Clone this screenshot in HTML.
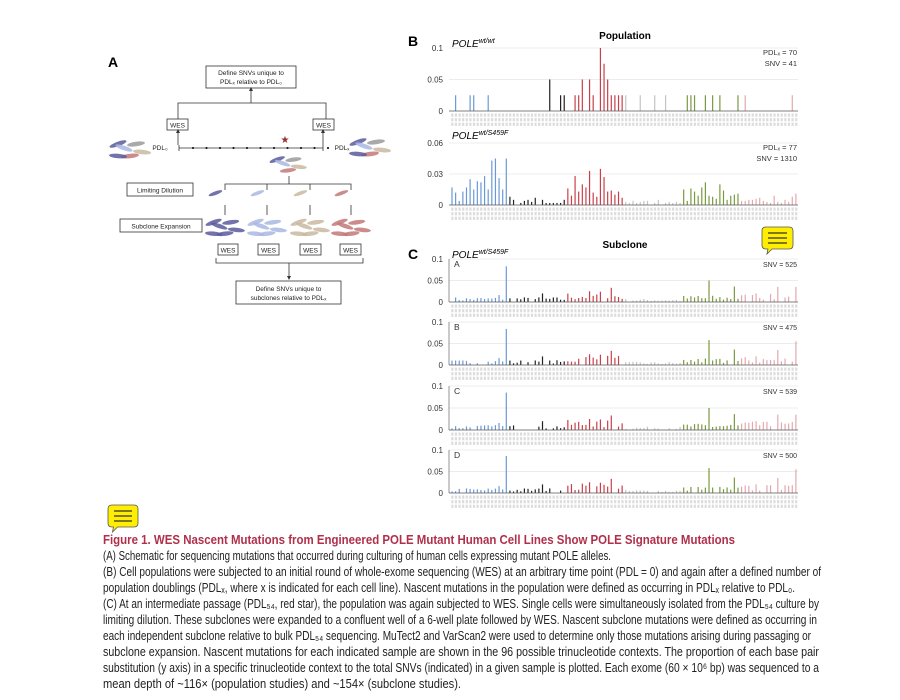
<!DOCTYPE html>
<html><head><meta charset="utf-8"><style>
html,body{margin:0;padding:0;background:#fff;}
svg{display:block;font-family:"Liberation Sans",sans-serif;}
</style></head><body>
<svg id="s" width="900" height="700" viewBox="0 0 900 700" xmlns="http://www.w3.org/2000/svg">
<rect width="900" height="700" fill="#fff"/>
<text x="108" y="67" font-size="14" font-weight="bold">A</text>
<g fill="none" stroke="#333" stroke-width="0.8">
<rect x="206" y="66" width="90" height="22"/>
<path d="M251 103 V90 M178 119 V103 H326 V119"/>
<rect x="167" y="119" width="21" height="11"/>
<rect x="313" y="119" width="21" height="11"/>
<path d="M178 145 V132 M323 145 V132"/>
<path d="M179 148 H323"/>
<path d="M289 176 V184 M225 190 V184 H351 V190 M267 184 V190 M310 184 V190"/>
<rect x="127" y="183" width="66" height="13"/>
<rect x="120" y="219" width="82" height="13"/>
<path d="M225 205 V215 M267 205 V215 M310 205 V215 M351 205 V215"/>
<rect x="218" y="244" width="20" height="11"/>
<rect x="258" y="244" width="21" height="11"/>
<rect x="300" y="244" width="21" height="11"/>
<rect x="340" y="244" width="21" height="11"/>
<path d="M216 258 V263 H363 V258 M289 263 V277"/>
<rect x="236" y="281" width="105" height="23"/>
</g>
<g fill="#333"><path d="M249 91 L251 87 L253 91Z M176 133 L178 129 L180 133Z M321 133 L323 129 L325 133Z M287 276 L289 280 L291 276Z"/></g>
<g font-size="6.5" fill="#222" text-anchor="middle">
<text x="251" y="75">Define SNVs unique to</text>
<text x="251" y="84">PDLₓ relative to PDL₀</text>
<text x="177.5" y="127.5">WES</text><text x="323.5" y="127.5">WES</text>
<text x="160" y="150">PDL₀</text><text x="342" y="150">PDLₓ</text>
<text x="160" y="192.5">Limiting Dilution</text>
<text x="161" y="228.5">Subclone Expansion</text>
<text x="228" y="252.5">WES</text><text x="268.5" y="252.5">WES</text><text x="310.5" y="252.5">WES</text><text x="350.5" y="252.5">WES</text>
<text x="288.5" y="291">Define SNVs unique to</text>
<text x="288.5" y="300">subclones relative to PDLₓ</text>
</g>
<text x="285" y="143" font-size="10" fill="#9a3030" text-anchor="middle">★</text>
<g id="cells"></g>
<g id="tl"></g>
<text x="408" y="46" font-size="14" font-weight="bold">B</text>
<text x="625" y="39" font-size="10" font-weight="bold" text-anchor="middle">Population</text>
<text x="452" y="47" font-size="10" font-style="italic">POLE<tspan font-size="7" dy="-4">wt/wt</tspan></text>
<text x="452" y="139" font-size="10" font-style="italic">POLE<tspan font-size="7" dy="-4">wt/S459F</tspan></text>
<g font-size="7.5" fill="#333" text-anchor="end">
<text x="797" y="55">PDLₓ = 70</text><text x="797" y="66">SNV = 41</text>
<text x="797" y="150">PDLₓ = 77</text><text x="797" y="161">SNV = 1310</text>
</g>
<text x="408" y="259" font-size="14" font-weight="bold">C</text>
<text x="625" y="248" font-size="10" font-weight="bold" text-anchor="middle">Subclone</text>
<text x="452" y="258" font-size="10" font-style="italic">POLE<tspan font-size="7" dy="-4">wt/S459F</tspan></text>
<g id="charts"></g>
<g id="bub"></g>
<g font-size="12.5" fill="#222">
<text x="103" y="544" fill="#b0304a" font-weight="bold" textLength="632" lengthAdjust="spacingAndGlyphs">Figure 1.  WES Nascent Mutations from Engineered POLE Mutant Human Cell Lines Show POLE Signature Mutations</text>
<text x="103" y="560" textLength="508" lengthAdjust="spacingAndGlyphs">(A) Schematic for sequencing mutations that occurred during culturing of human cells expressing mutant POLE alleles.</text>
<text x="103" y="576" textLength="718" lengthAdjust="spacingAndGlyphs">(B) Cell populations were subjected to an initial round of whole-exome sequencing (WES) at an arbitrary time point (PDL = 0) and again after a defined number of</text>
<text x="103" y="592" textLength="692" lengthAdjust="spacingAndGlyphs">population doublings (PDLₓ, where x is indicated for each cell line). Nascent mutations in the population were defined as occurring in PDLₓ relative to PDL₀.</text>
<text x="103" y="608" textLength="716" lengthAdjust="spacingAndGlyphs">(C) At an intermediate passage (PDL₅₄, red star), the population was again subjected to WES. Single cells were simultaneously isolated from the PDL₅₄ culture by</text>
<text x="103" y="624" textLength="714" lengthAdjust="spacingAndGlyphs">limiting dilution. These subclones were expanded to a confluent well of a 6-well plate followed by WES. Nascent subclone mutations were defined as occurring in</text>
<text x="103" y="640" textLength="708" lengthAdjust="spacingAndGlyphs">each independent subclone relative to bulk PDL₅₄ sequencing. MuTect2 and VarScan2 were used to determine only those mutations arising during passaging or</text>
<text x="103" y="656" textLength="716" lengthAdjust="spacingAndGlyphs">subclone expansion. Nascent mutations for each indicated sample are shown in the 96 possible trinucleotide contexts. The proportion of each base pair</text>
<text x="103" y="672" textLength="716" lengthAdjust="spacingAndGlyphs">substitution (y axis) in a specific trinucleotide context to the total SNVs (indicated) in a given sample is plotted. Each exome (60 × 10⁶ bp) was sequenced to a</text>
<text x="103" y="688" textLength="358" lengthAdjust="spacingAndGlyphs">mean depth of ~116× (population studies) and ~154× (subclone studies).</text>
</g>
</svg>
<script>
var NS="http://www.w3.org/2000/svg";
function el(p,t,a){var e=document.createElementNS(NS,t);for(var k in a)e.setAttribute(k,a[k]);p.appendChild(e);return e;}
var tl=document.getElementById('tl');
for(var i=0;i<11;i++){el(tl,'circle',{cx:193+i*13.5,cy:148,r:1.1,fill:'#222'});}
el(tl,'path',{d:'M179 145 V151 M323 145 V151',stroke:'#333','stroke-width':0.8});
var cg=document.getElementById('cells');
var cols=['#5b5b9c','#c27878','#c9b9a0','#a9b9e2','#9a9a9a'];
function cluster(x,y,pal,n,sc){
 for(var i=0;i<n;i++){
  var cx=x+((i*37)%5-2)*6*sc, cy=y+((i*23)%4-1.5)*4*sc, r=((i*53)%40)-20;
  el(cg,'ellipse',{cx:cx,cy:cy,rx:9*sc,ry:2.3*sc,fill:pal[i%pal.length],opacity:0.85,transform:'rotate('+r+' '+cx+' '+cy+')'});
 }}
cluster(130,150,cols,6,1);cluster(370,148,cols,6,1);cluster(288,165,cols,5,0.9);
var sub=[['#5b5b9c'],['#a9b9e2'],['#c9b9a0'],['#c27878']];
var xs=[225,267,310,351];
for(var j=0;j<4;j++){cluster(xs[j],198,sub[j],1,0.8);cluster(xs[j],228,sub[j],6,0.95);}
var CC=['#6a9ad6','#222','#c8404a','#c4c4c4','#7a9a40','#e4a8b0'];
var ch=document.getElementById('charts');
var seed=7;function rnd(){seed=(seed*16807)%2147483647;return seed/2147483647;}
function chart(y0,yTop,vmax,ticks,vals,vaxis){
 var H=y0-yTop;
 ticks.forEach(function(t){var y=y0-t/vmax*H;
  if(t>0)el(ch,'line',{x1:449,x2:798,y1:y,y2:y,stroke:'#e6e6e6','stroke-width':0.7});
  var tx=el(ch,'text',{x:443,y:y+3,'font-size':8,'text-anchor':'end',fill:'#333'});tx.textContent=(t==0?'0':String(t));});
 if(vaxis)el(ch,'line',{x1:449,x2:449,y1:yTop,y2:y0,stroke:'#666','stroke-width':0.7});
 for(var i=0;i<96;i++){var v=vals[i];if(v>0){var x=452+i*3.62;
  el(ch,'rect',{x:x-0.6,y:y0-v/vmax*H,width:1.2,height:v/vmax*H,fill:CC[Math.floor(i/16)]});}}
 el(ch,'line',{x1:449,x2:798,y1:y0,y2:y0,stroke:'#555','stroke-width':0.8});
 for(var r=0;r<3;r++)for(var i=0;i<96;i++){
  el(ch,'rect',{x:451.2+i*3.62,y:y0+2.5+r*4.6,width:2.2,height:3.2,fill:'#dcdcdc'});}
}
var a=new Array(96).fill(0);
[1,5,6,10,30,31,34,35,39,44,45,46,47,48,52,56,59,65,66,67,70,72,74,79,81,94].forEach(function(i){a[i]=0.025;});
a[27]=0.05;a[36]=0.05;a[38]=0.05;a[41]=0.1;a[42]=0.075;a[43]=0.05;
chart(111,48,0.1,[0,0.05,0.1],a,false);
var b=[.017,.012,.004,.013,.017,.025,.015,.023,.022,.028,.015,.043,.045,.026,.015,.045,
 .008,.005,0,.002,.004,.005,.003,.007,0,.005,.002,.002,.002,.002,.002,.005,
 .016,.009,.028,.013,.020,.017,.033,.012,.008,.035,.027,.013,.014,.010,.013,.007,
 .003,.002,.004,.002,.003,.004,.004,0,.002,.005,0,.002,.003,.002,.003,.002,
 .015,.004,.016,.013,.009,.017,.022,.009,.008,.006,.020,.014,.005,.009,.010,.011,
 .004,.004,.005,.005,.006,.007,.004,.003,.002,.009,.003,.002,.005,.003,.008,.011];
chart(205,143,0.06,[0,0.03,0.06],b,false);
var sub0=[[302,259,'A','SNV = 525'],[365,322,'B','SNV = 475'],[430,386,'C','SNV = 539'],[493,450,'D','SNV = 500']];
sub0.forEach(function(p,k){
 var v=[];for(var i=0;i<96;i++){var g=Math.floor(i/16),r=rnd();
  var base=[.006,.006,.012,.004,.008,.01][g];v.push(r<0.15?0:base*(0.3+r*1.6));}
 v[15]=0.083+k*0.001;v[13]=0.016;v[25]=0.02;v[38]=0.025;v[44]=0.033;v[41]=0.024;
 v[71]=0.05+0.008*(k%2);v[78]=0.036;v[90]=0.035;v[95]=0.035+0.02*(k%2);v[68]=0.014;v[84]=0.02;
 chart(p[0],p[1],0.1,[0,0.05,0.1],v,true);
 var t=el(ch,'text',{x:454,y:p[1]+8,'font-size':8.5,fill:'#333'});t.textContent=p[2];
 t=el(ch,'text',{x:797,y:p[1]+8,'font-size':7,fill:'#333','text-anchor':'end'});t.textContent=p[3];
});
var bg=document.getElementById('bub');
function bubble(x,y,w,h){
 el(bg,'path',{d:'M'+(x+4)+' '+y+' h'+(w-8)+' q4 0 4 4 v'+(h-8)+' q0 4 -4 4 h-'+(w*0.55)+' l-5 5 l1 -5 h-'+(w*0.45-12)+' q-4 0 -4 -4 v-'+(h-8)+' q0 -4 4 -4z',fill:'#ffee00',stroke:'#555','stroke-width':0.8});
 for(var i=0;i<3;i++)el(bg,'line',{x1:x+6,x2:x+w-6,y1:y+6+i*(h-12)/2,y2:y+6+i*(h-12)/2,stroke:'#333','stroke-width':1.2});
}
bubble(762,227,31,22);bubble(108,505,30,22);
</script>
</body></html>
